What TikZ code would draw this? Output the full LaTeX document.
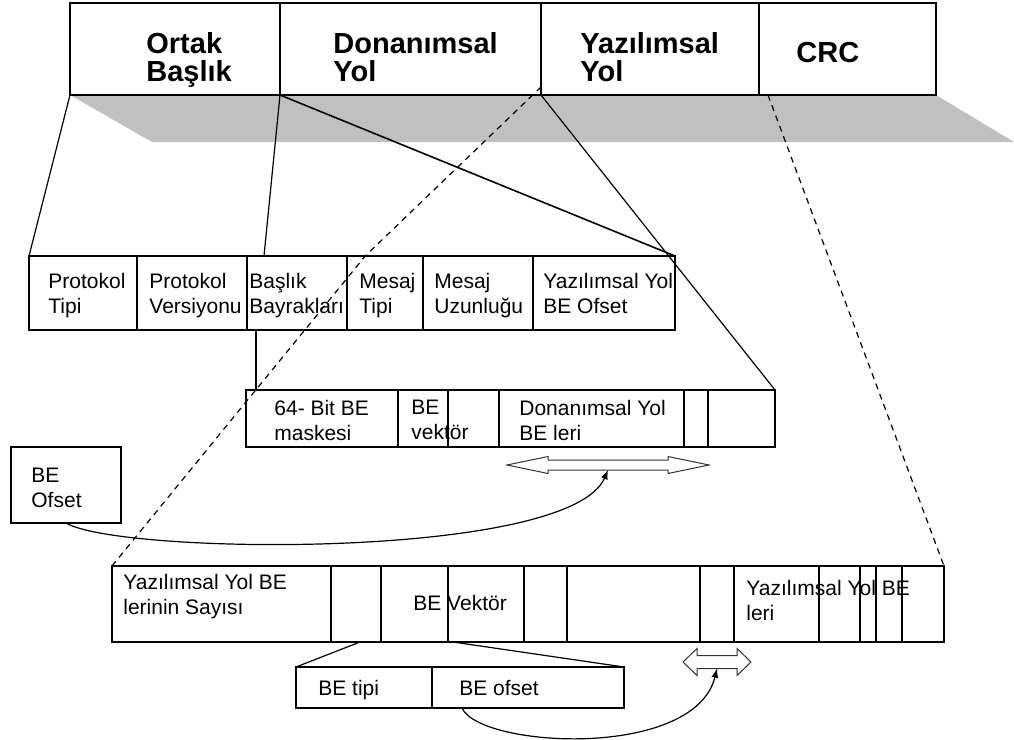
\documentclass[tikz,border=0pt]{standalone}
\usepackage{fontspec}
\setmainfont{Liberation Sans}
\usetikzlibrary{positioning,calc,backgrounds}
\definecolor{shadegray}{RGB}{192,192,192}
\tikzset{
    cell/.style={rectangle, draw, anchor=north west, inner sep=0pt, outer sep=0pt, line width=0.6pt},
    bar/.style={cell, minimum height=46pt},
    fieldrow/.style={cell, minimum height=37pt},
    hwrow/.style={cell, minimum height=28.5pt},
    swrow/.style={cell, minimum height=38pt},
    entry/.style={cell, minimum height=20.5pt},
    txt/.style={anchor=north west, inner sep=0pt, align=left, font=\fontsize{10.5}{12.5}\selectfont},
    headtxt/.style={txt, font=\fontsize{14.5}{14}\selectfont\bfseries},
    link/.style={line width=0.6pt},
    dashlink/.style={link, dash pattern=on 3pt off 2.5pt},
    hollow/.style={draw=black!80, fill=white, line width=0.5pt},
    curve/.style={-latex, line width=0.6pt},
}

\begin{document}
\begin{tikzpicture}[x=0.5pt, y=-0.5pt]
    \useasboundingbox (0,0) rectangle (1014,740);

    % packet
    \node [bar, minimum width=105pt]   (ob)  at (70,3) {};
    \node [bar, minimum width=130.5pt] (dy)  at (ob.north east) {};
    \node [bar, minimum width=109pt]   (yy)  at (dy.north east) {};
    \node [bar, minimum width=88.5pt]  (crc) at (yy.north east) {};
    \node [headtxt] (t-ob)  at (146,32) {Ortak\\Başlık};
    \node [headtxt] (t-dy)  at (333,32) {Donanımsal\\Yol};
    \node [headtxt] (t-yy)  at (580,32) {Yazılımsal\\Yol};
    \node [headtxt] (t-crc) at (796,42) {CRC};

    \begin{scope}[on background layer]
        \fill [shadegray] (ob.south west) -- (crc.south east) -- ++(78,47)
            -- ($(ob.south west)+(82,47)$) -- cycle;
    \end{scope}

    % common header
    \node [fieldrow, minimum width=54pt] (pt) at (29,256) {};
    \node [fieldrow, minimum width=55pt] (pv) at (pt.north east) {};
    \node [fieldrow, minimum width=50pt] (bb) at (pv.north east) {};
    \node [fieldrow, minimum width=38pt] (mt) at (bb.north east) {};
    \node [fieldrow, minimum width=55pt] (mu) at (mt.north east) {};
    \node [fieldrow, minimum width=71pt] (yo) at (mu.north east) {};
    \node [txt] (t-pt) at (48,273)  {Protokol\\Tipi};
    \node [txt] (t-pv) at (149,273) {Protokol\\Versiyonu};
    \node [txt] (t-bb) at (249,273) {Başlık\\Bayrakları};
    \node [txt] (t-mt) at (359,273) {Mesaj\\Tipi};
    \node [txt] (t-mu) at (434,273) {Mesaj\\Uzunluğu};
    \node [txt] (t-yo) at (543,273) {Yazılımsal Yol\\BE Ofset};

    % hardware path
    \node [hwrow, minimum width=76pt]   (bm)  at (246,390) {};
    \node [hwrow, minimum width=25pt]   (bv)  at (bm.north east) {};
    \node [hwrow, minimum width=25.5pt] (e1)  at (bv.north east) {};
    \node [hwrow, minimum width=92.5pt] (dbe) at (e1.north east) {};
    \node [hwrow, minimum width=12pt]   (e2)  at (dbe.north east) {};
    \node [hwrow, minimum width=33.5pt] (e3)  at (e2.north east) {};
    \node [txt] (t-bm)  at (274,400) {64- Bit BE\\maskesi};
    \node [txt] (t-bv)  at (411,400) {BE\\vektör};
    \node [txt] (t-dbe) at (519,400) {Donanımsal Yol\\BE leri};

    \node [swrow, minimum width=55pt, minimum height=38pt] (beo) at (11,447) {};
    \node [txt] (t-beo) at (31,468) {BE\\Ofset};

    % software path
    \node [swrow, minimum width=109.5pt] (ys)  at (112,566) {};
    \node [swrow, minimum width=25pt]    (c2)  at (ys.north east) {};
    \node [swrow, minimum width=33.5pt]  (bvk) at (c2.north east) {};
    \node [swrow, minimum width=38pt]    (c4)  at (bvk.north east) {};
    \node [swrow, minimum width=21.5pt]  (c5)  at (c4.north east) {};
    \node [swrow, minimum width=66.5pt]  (c6)  at (c5.north east) {};
    \node [swrow, minimum width=17pt]    (c7)  at (c6.north east) {};
    \node [swrow, minimum width=42.5pt]  (ybe) at (c7.north east) {};
    \node [swrow, minimum width=20.5pt]  (c9)  at (ybe.north east) {};
    \node [swrow, minimum width=8pt]     (c10) at (c9.north east) {};
    \node [swrow, minimum width=13pt]    (c11) at (c10.north east) {};
    \node [swrow, minimum width=21pt]    (c12) at (c11.north east) {};
    \node [txt] (t-ys)  at (123,574) {Yazılımsal Yol BE\\lerinin Sayısı};
    \node [txt] (t-bvk) at (413,595) {BE Vektör};
    \node [txt] (t-ybe) at (746,580) {Yazılımsal Yol BE\\leri};

    \node [entry, minimum width=68pt] (bt) at (296,667) {};
    \node [entry, minimum width=96pt] (bo) at (bt.north east) {};
    \node [txt] (t-bt) at (318,680) {BE tipi};
    \node [txt] (t-bo) at (459,680) {BE ofset};

    % projections
    \draw [link] (ob.south west) -- (pt.north west);
    \draw [link] (ob.south east) -- ($(bb.north west)!0.17!(bb.north east)$);
    \draw [link, line width=0.8pt] (ob.south east) -- (yo.north east);
    \draw [link] (yy.south west) -- (e3.north east);
    \draw [dashlink] ($(yy.south west)+(0,-8)$) -- ($(mt.north west)!0.24!(mt.north east)$) -- (ys.north west);
    \draw [dashlink] ($(crc.south west)+(9,0)$) -- (c12.north east);
    \coordinate (bbs) at ($(bb.south west)+(9,0)$);
    \draw [link] (bbs) -- (bbs |- bm.north);
    \draw [link] ($(c2.south west)!0.58!(c2.south east)$) -- (bt.north west);
    \draw [link] ($(c4.south west)+(5,0)$) -- (bo.north east);

    % offsets
    \coordinate (hw) at (608,465);
    \coordinate (hwb) at ($(hw)+(0,5)$);
    \coordinate (hs) at (717,662);
    \coordinate (hsb) at ($(hs)+(0,6.5)$);
    \draw [curve] (beo.south) .. controls (120,555) and (570,560) .. (hwb);
    \draw [curve] ($(bo.south west)+(30,0)$) .. controls (480,748) and (695,760) .. (hsb);
    \draw [hollow] ($(hw)+(-101,0)$) -- ++(41,-8.5) -- ++(0,3.5) -- ++(120,0) -- ++(0,-3.5)
        -- ++(41,8.5) -- ++(-41,8.5) -- ++(0,-3.5) -- ++(-120,0) -- ++(0,3.5) -- cycle;
    \draw [hollow] ($(hs)+(-34,0)$) -- ++(14,-13.5) -- ++(0,7) -- ++(40,0) -- ++(0,-7)
        -- ++(14,13.5) -- ++(-14,13.5) -- ++(0,-7) -- ++(-40,0) -- ++(0,7) -- cycle;
\end{tikzpicture}
\end{document}
